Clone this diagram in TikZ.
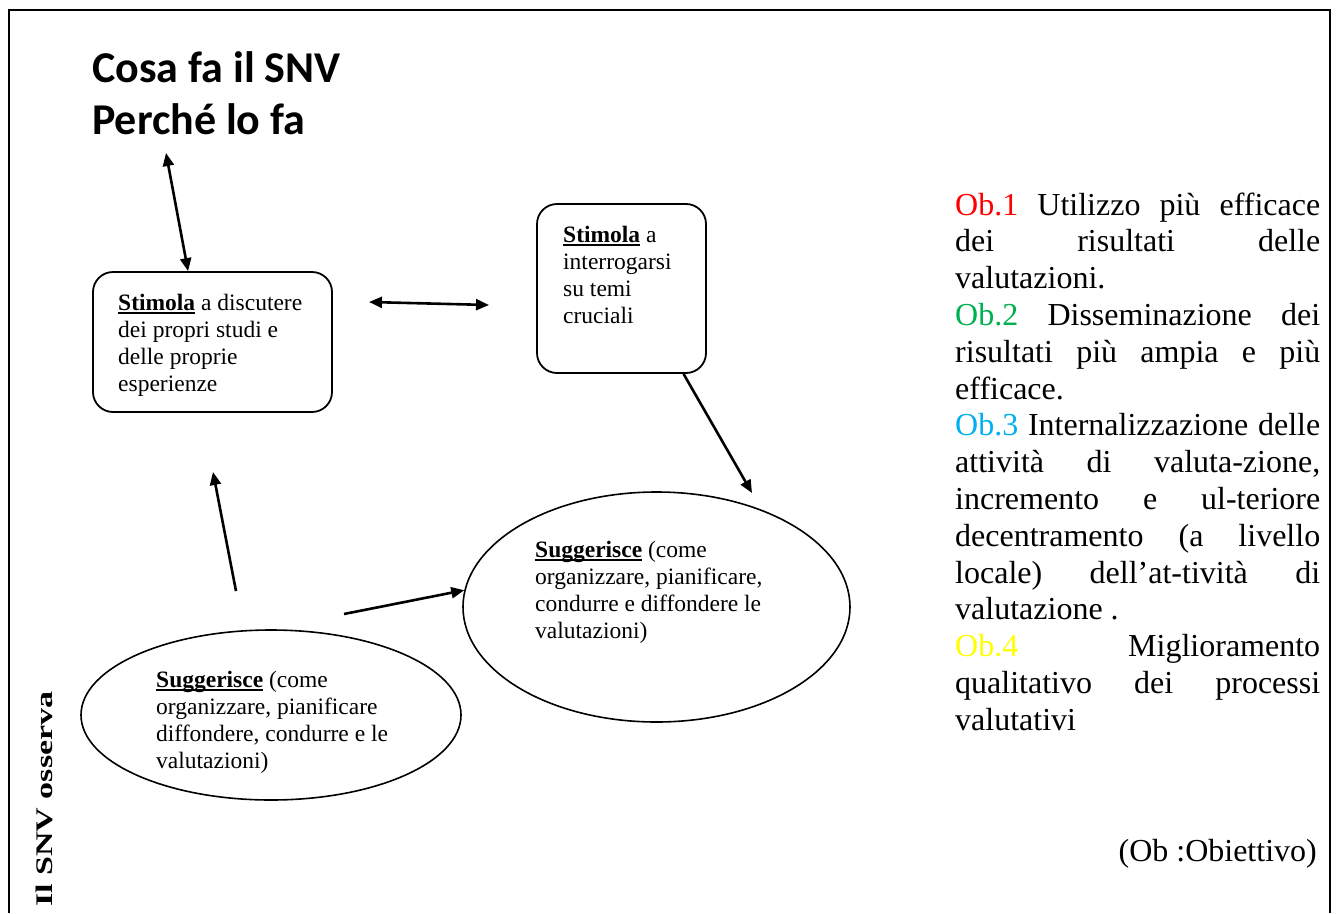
\documentclass[tikz,border=0pt]{standalone}
\usepackage{fontspec}
\setmainfont{Liberation Serif}
\newfontfamily\titlefont{Carlito}
\usepackage{graphicx}
\usetikzlibrary{arrows.meta,shapes.geometric}
\definecolor{obred}{HTML}{FF0000}
\definecolor{obgreen}{HTML}{00B050}
\definecolor{obcyan}{HTML}{00B0F0}
\definecolor{obyellow}{HTML}{FFFF00}
\newcommand\myul[1]{\leavevmode\setbox0\hbox{#1}\rlap{\rule[-3.5pt]{\wd0}{2pt}}\box0\relax}
\newcommand\jline[1]{\makebox[365pt][s]{#1}}
\begin{document}
\begin{tikzpicture}[x=1pt,y=-1pt,
  frame/.style={line width=2.4pt},
  rbox/.style={draw,line width=1.8pt,rounded corners=20pt,inner sep=0pt},
  ell/.style={draw,ellipse,line width=1.6pt,inner sep=0pt},
  txt/.style={inner sep=0pt,anchor=base west},
  small/.style={font=\fontsize{23.5}{27}\selectfont},
  arr/.style={line width=2.6pt,-{Triangle[length=13pt,width=11pt]}},
  darr/.style={line width=2.6pt,{Triangle[length=13pt,width=11pt]}-{Triangle[length=13pt,width=11pt]}}]
\useasboundingbox (0,0) rectangle (1338,913);
\draw[frame] (9,913) -- (9,10) -- (1330,10) -- (1330,913);

% title
\node[txt] (title) at (92,82) {\parbox[t]{500pt}{\titlefont\bfseries\fontsize{44}{52}\selectfont Cosa fa il SNV\\Perch\'e lo fa}};

% shapes
\node[rbox,minimum width=239pt,minimum height=140pt] (b1) at (212.5,342) {};
\node[rbox,minimum width=169pt,minimum height=169pt] (b2) at (621.5,288.5) {};
\node[ell,minimum width=380pt,minimum height=170pt] (e1) at (271,715) {};
\node[ell,minimum width=387pt,minimum height=230pt] (e2) at (656.5,607) {};

% texts in shapes
\node[txt,small] (tb1) at (118,310) {\parbox[t]{220pt}{\raggedright\myul{\textbf{Stimola}} a discutere\\dei propri studi e\\delle proprie\\esperienze}};
\node[txt,small] (tb2) at (563,242) {\parbox[t]{140pt}{\raggedright\myul{\textbf{Stimola}} a\\interrogarsi\\su temi\\cruciali}};
\node[txt,small] (te1) at (156,687) {\parbox[t]{300pt}{\raggedright\myul{\textbf{Suggerisce}} (come\\organizzare, pianificare\\diffondere, condurre e le\\valutazioni)}};
\node[txt,small] (te2) at (535,557) {\parbox[t]{300pt}{\raggedright\myul{\textbf{Suggerisce}} (come\\organizzare, pianificare,\\condurre e diffondere le\\valutazioni)}};

% objectives
\node[txt] (obj) at (955,215) {\parbox[t]{365pt}{\fontsize{32}{36.8}\selectfont
\jline{\textcolor{obred}{Ob.1} Utilizzo più efficace}\\
\jline{dei risultati delle}\\
valutazioni.\\
\jline{\textcolor{obgreen}{Ob.2} Disseminazione dei}\\
\jline{risultati più ampia e più}\\
efficace.\\
\jline{\textcolor{obcyan}{Ob.3} Internalizzazione delle}\\
\jline{attività di valuta-zione,}\\
\jline{incremento e ul-teriore}\\
\jline{decentramento (a livello}\\
\jline{locale) dell’at-tività di}\\
valutazione .\\
\jline{\textcolor{obyellow}{Ob.4} Miglioramento}\\
\jline{qualitativo dei processi}\\
valutativi}};
\node[txt,anchor=base east,font=\fontsize{32}{36.8}\selectfont] (obnote) at (1317,861) {(Ob :Obiettivo)};

% vertical label
\node[txt,rotate=90,anchor=base west,font=\bfseries\fontsize{34}{40}\selectfont] (osserva) at (52,907) {\scalebox{1}[0.7]{Il SNV osserva}};

% connectors
\coordinate (c1) at (166,153);
\coordinate (c2) at (369,302);
\coordinate (c3) at (489,305);
\coordinate (c4) at (752,493);
\coordinate (c5) at (236,591);
\coordinate (c6) at (213,472);
\coordinate (c7) at (344,614);
\draw[darr] (c1) -- (b1.109);
\draw[darr] (c2) -- (c3);
\draw[arr] (b2.-54) -- (c4);
\draw[arr] (c5) -- (c6);
\draw[arr] (c7) -- (e2.175);
\end{tikzpicture}
\end{document}
